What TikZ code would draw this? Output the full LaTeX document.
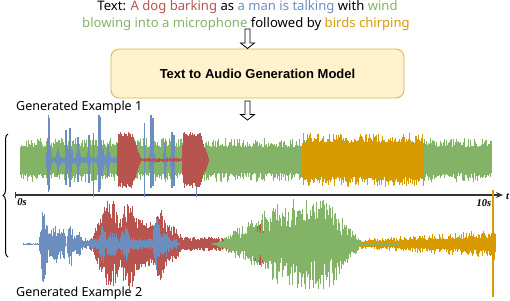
\documentclass[tikz,border=0pt]{standalone}
\usepackage{fontspec}
\setmainfont{Noto Sans}
\newfontfamily\boxfont{Liberation Sans}
\newfontfamily\axfont{Liberation Serif}
\usetikzlibrary{arrows.meta,decorations.pathreplacing,calc}
\definecolor{cred}{HTML}{B85450}
\definecolor{cblue}{HTML}{6C8EBF}
\definecolor{cgreen}{HTML}{82B366}
\definecolor{corange}{HTML}{D79B00}
\definecolor{boxfill}{HTML}{FFF2CC}
\definecolor{boxdraw}{HTML}{D6B656}
\definecolor{axisgray}{HTML}{333333}
% waveform: #1 colour, #2 start, #3 second, #4 end, #5 centre y, #6 envelope, #7 base, #8 power
\newcommand\wv[8]{%
  \draw[#1,line width=0.55pt] foreach \x [evaluate=\x as \ta using {(#6)*(#7+(1-#7)*pow(rnd,#8))},
      evaluate=\x as \tb using {(#6)*(#7+(1-#7)*pow(rnd,#8))}] in {#2,#3,...,#4}
      {(\x,{#5-\ta}) -- (\x,{#5+\tb})};}
\newcommand\hollowarrow[2]{%
  \draw[hollow] ($(#1)+(-2.5,0)$) -- ($(#1)+(2.5,0)$) -- ($(#2)+(2.5,-5.5)$) -- ($(#2)+(7,-5.5)$)
     -- (#2) -- ($(#2)+(-7,-5.5)$) -- ($(#2)+(-2.5,-5.5)$) -- cycle;}
\begin{document}
\begin{tikzpicture}[x=1pt,y=-1pt,
  declare function={
    rmp(\pa)=max(0,min(1,\pa));
    bmp(\pa,\pb,\pc)=max(0,1-(min(abs(\pa-\pb)/\pc,1.5))^2);
    dcy(\pa,\pb,\pc)=rmp((\pa-\pb)/0.8+1)*rmp(1-(\pa-\pb)/\pc);
    bx(\pa,\pb,\pc,\pd)=rmp((\pa-\pb)/\pd)*rmp((\pc-\pa)/\pd);
  },
  hollow/.style={draw=black, fill=white, line width=0.8pt, line join=miter},
  prompt/.style={font=\fontsize{13.1}{15}\selectfont, inner sep=0pt, anchor=base},
  modelbox/.style={draw=boxdraw, fill=boxfill, line width=0.9pt, rounded corners=8pt,
     minimum width=293pt, minimum height=49pt, font=\boxfont\bfseries\fontsize{13}{15}\selectfont},
  exlabel/.style={font=\fontsize{12.5}{14}\selectfont, inner sep=0pt, anchor=base west},
  axlab/.style={font=\axfont\bfseries\itshape\fontsize{10.5}{12}\selectfont, inner sep=0pt, anchor=base},
  axis/.style={draw=axisgray, line width=1.2pt, -{Stealth[length=7pt,width=6pt,fill=black]}},
]
\pgfmathsetseed{4242}
\useasboundingbox (0,0) rectangle (510,300);

% prompt text
\node[prompt] (line1) at (247.5,10.5) {Text: \textcolor{cred}{A dog barking} as \textcolor{cblue}{a man is talking} with \textcolor{cgreen}{wind}};
\node[prompt] (line2) at (246,27) {\textcolor{cgreen}{blowing into a microphone} followed by \textcolor{corange}{birds chirping}};

% model box
\node[modelbox] (model) at (257.5,73.5) {Text to Audio Generation Model};

% hollow arrows
\coordinate (a1top) at (247.5,29);
\coordinate (a1tip) at (247.5,48.5);
\coordinate (a2top) at (247.5,101);
\coordinate (a2tip) at (247.5,120);
\hollowarrow{a1top}{a1tip}
\hollowarrow{a2top}{a2tip}

% labels
\node[exlabel] (ex1) at (16,110) {Generated Example 1};
\node[exlabel] (ex2) at (16,296.5) {Generated Example 2};

% time axis
\coordinate (ax0) at (15,195);
\coordinate (ax1) at (503,195);
\draw[axis] (ax0) -- (ax1);
\draw[axisgray, line width=1pt] ($(ax0)+(0,-3)$) -- ($(ax0)+(0,3)$);
\node[axlab] (l0) at (22,205.5) {0s};
\node[axlab] (l10) at (484,206.5) {10s};
\node[axlab] (lt) at (507.5,199.5) {t};

% brace
\draw[decorate, decoration={brace, amplitude=5pt}, line width=1pt] (8,257) -- (8,134);

% ---- Generated example 1 (centre y = 160)
\wv{cgreen}{20}{20.5}{491}{160}{22}{0.6}{3}
\wv{cblue}{45}{45.5}{200}{160}{3.5*bx(\x,47,117,1) + 30*dcy(\x,47,5) + 14*dcy(\x,57,4) + 24*dcy(\x,66,4) + 20*dcy(\x,70,3) + 14*dcy(\x,77,4) + 16*dcy(\x,88,3) + 30*dcy(\x,98,7) + 16*dcy(\x,107,4) + 30*dcy(\x,150,6) + 18*dcy(\x,164,4) + 24*dcy(\x,171,5)}{0.35}{1}
\draw[cblue, line width=1.3pt] foreach \sx/\st/\sb in {48.5/115/192, 49.8/118/190, 66/130/185, 70/128/187, 78/137/182, 89/135/183, 99/115/192, 100.5/117/189, 108/145/176, 151/115/188, 153/118/186, 165/142/177, 172/132/188, 174/135/186} {(\sx,\st) -- (\sx,\sb)};
\draw[cblue, line width=0.9pt] foreach \sx/\st/\sb in {93/133/197, 144/123/197, 196/140/197} {(\sx,\st) -- (\sx,\sb)};
\wv{cred}{116}{116.5}{210}{160}{28*rmp((\x-116.5)/1.5)*rmp((141-\x)/9) + 1.6*bx(\x,140,182,0.5) + 28*rmp((\x-181.5)/1.5)*rmp((209-\x)/9)}{0.78}{1}
\wv{corange}{302}{302.5}{423}{160}{27}{0.64}{3}

% ---- Generated example 2 (centre y = 244)
\wv{corange}{224}{224.5}{491}{244}{5+9*rmp((\x-360)/130)}{0.45}{3}
\wv{cred}{86}{86.5}{280}{244}{(28-8*rmp((\x-135)/20))*rmp((\x-88)/12)*rmp((182-\x)/8) + 18*bmp(\x,110,9) + 18*bmp(\x,129,8) + 16*bmp(\x,160,7) + 7*bx(\x,176,240,4) + 22*bmp(\x,261,16)*rmp(278-\x)}{0.45}{1.2}
\wv{cgreen}{212}{212.5}{400}{244}{44*rmp((\x-215)/70)*rmp((362-\x)/32) + 1.5}{0.3}{1.5}
\wv{cblue}{23}{23.5}{180}{244}{0.8*bx(\x,22,180,0.5) + 40*bmp(\x,43.5,4.5) + 15*bx(\x,46,66,2) + 8*bmp(\x,55.5,2) + 24*bmp(\x,70,3.5) + 12*bx(\x,72,84,4) + 5*bx(\x,83,178,2) + 14*bmp(\x,102.5,3.5) + 7*bx(\x,106,118,2) + 12*bmp(\x,125,5) + 23*bmp(\x,156.5,4) + 8*bx(\x,158,170,4)}{0.35}{1.3}
\wv{corange}{491.5}{492}{495}{244}{16}{0.4}{1}
\draw[corange, line width=1.2pt] (493,190) -- (493,297);
\end{tikzpicture}
\end{document}
